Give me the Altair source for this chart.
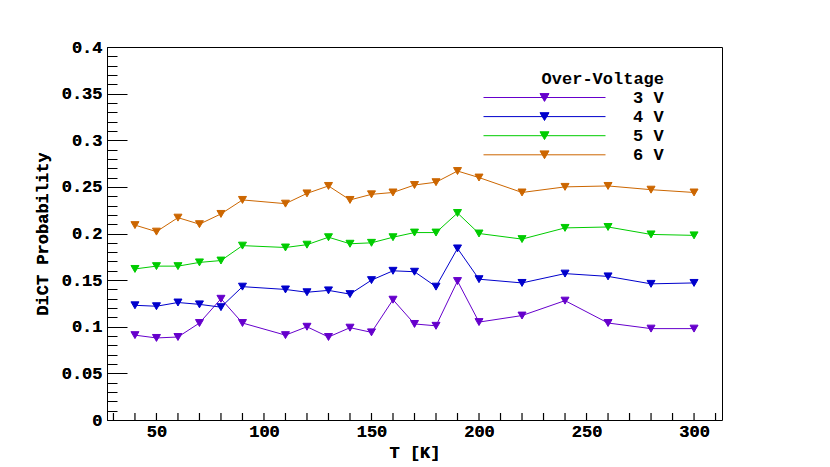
import altair as alt
import pandas as pd

# ---- data ----
temps = [40, 50, 60, 70, 80, 90, 110, 120, 130, 140, 150, 160, 170, 180, 190, 200, 220, 240, 260, 280, 300]
p3v = [0.091, 0.088, 0.089, 0.104, 0.130, 0.104, 0.091, 0.100, 0.089, 0.099, 0.094, 0.129, 0.103, 0.101, 0.149, 0.105, 0.112, 0.128, 0.104, 0.098, 0.098]
p4v = [0.123, 0.122, 0.126, 0.124, 0.121, 0.143, 0.140, 0.137, 0.139, 0.135, 0.150, 0.160, 0.159, 0.143, 0.184, 0.151, 0.147, 0.157, 0.154, 0.146, 0.147]
p5v = [0.162, 0.165, 0.165, 0.169, 0.171, 0.187, 0.185, 0.188, 0.196, 0.189, 0.190, 0.196, 0.201, 0.201, 0.222, 0.200, 0.194, 0.206, 0.207, 0.199, 0.198]
p6v = [0.209, 0.202, 0.217, 0.210, 0.221, 0.236, 0.232, 0.243, 0.251, 0.236, 0.242, 0.244, 0.252, 0.255, 0.267, 0.260, 0.244, 0.250, 0.251, 0.247, 0.244]

series_labels = ["3 V", "4 V", "5 V", "6 V"]
series_colors = ["#6600cc", "#0000cc", "#00cc00", "#cc6600"]

x_major = [50, 100, 150, 200, 250, 300]
x_minor = [30, 40, 60, 70, 80, 90, 110, 120, 130, 140, 160, 170, 180,
           190, 210, 220, 230, 240, 260, 270, 280, 290, 310]
y_major = [0, 0.05, 0.1, 0.15, 0.2, 0.25, 0.3, 0.35, 0.4]
y_minor = [0, 0.01, 0.02, 0.03, 0.04, 0.05, 0.06, 0.07, 0.08, 0.09, 0.1, 0.11, 0.12, 0.13,
           0.14, 0.15, 0.16, 0.17, 0.18, 0.19, 0.2, 0.21, 0.22, 0.23, 0.24, 0.25, 0.26,
           0.27, 0.28, 0.29, 0.3, 0.31, 0.32, 0.33, 0.34, 0.35, 0.36, 0.37, 0.38, 0.39, 0.4]

rows = []
for lab, vals in zip(series_labels, [p3v, p4v, p5v, p6v]):
    for t, v in zip(temps, vals):
        rows.append({"T": t, "P": v, "V": lab})
df = pd.DataFrame(rows)
xtick_df = pd.DataFrame(
    {"T": x_major + x_minor, "len": [9] * len(x_major) + [4] * len(x_minor)}
)

FONT = "Liberation Mono"
FS = 17
PLOT_W = 615
PLOT_H = 373

xscale = alt.Scale(domain=[27, 313], nice=False, zero=False)
yscale = alt.Scale(domain=[0, 0.4], nice=False, zero=False)
cscale = alt.Scale(domain=series_labels, range=series_colors)

main_x_axis = alt.Axis(
    orient="bottom", values=x_major, ticks=False, domain=False, grid=False,
    labelFont=FONT, labelFontSize=FS, labelFontWeight="bold", labelColor="black",
    labelPadding=3, labelFlush=False, format="d",
    title="T [K]", titleFont=FONT, titleFontSize=FS, titleFontWeight="bold",
    titleColor="black", titlePadding=5,
)
main_y_axis = alt.Axis(
    orient="left", values=y_major, ticks=False, domain=False, grid=False,
    labelFont=FONT, labelFontSize=FS, labelFontWeight="bold", labelColor="black",
    labelPadding=5, format="~g",
    title="DiCT Probability", titleFont=FONT, titleFontSize=FS, titleFontWeight="bold",
    titleColor="black", titlePadding=10,
)


def y_tick_axis(values, length):
    # axis pulled inside the frame by its tick length: ticks end on the frame edge
    return alt.Axis(
        orient="left", values=values, labels=False, domain=False, grid=False,
        title=None, ticks=True, tickSize=length, offset=-length,
        tickColor="black", tickWidth=1,
    )


legend_symbol = "M-1,0H1M0,0.064L0.074,-0.064L-0.074,-0.064Z"
legend_def = alt.Legend(
    title="Over-Voltage", orient="none", legendX=376, legendY=24,
    symbolType=legend_symbol, symbolSize=14884, symbolStrokeWidth=1,
    symbolOpacity=1, clipHeight=17, rowPadding=1.1, labelOffset=27,
    labelFont=FONT, labelFontSize=FS, labelFontWeight="bold", labelColor="black",
    titleFont=FONT, titleFontSize=FS, titleFontWeight="bold", titleColor="black",
    titleAnchor="end", titlePadding=1, padding=0,
)

lines = alt.Chart(df).mark_line(strokeWidth=1).encode(
    x=alt.X("T:Q", scale=xscale, axis=main_x_axis),
    y=alt.Y("P:Q", scale=yscale, axis=main_y_axis),
    stroke=alt.Stroke("V:N", scale=cscale, legend=legend_def),
)

points = alt.Chart(df).mark_point(
    shape="triangle-down", filled=True, size=64, opacity=1, strokeWidth=1
).encode(
    x=alt.X("T:Q", scale=xscale, axis=main_x_axis),
    y=alt.Y("P:Q", scale=yscale, axis=main_y_axis),
    fill=alt.Fill("V:N", scale=cscale, legend=legend_def),
    stroke=alt.Stroke("V:N", scale=cscale, legend=legend_def),
)

major_ticks = alt.Chart(df).mark_point(opacity=0).encode(
    x=alt.X("T:Q", scale=xscale, axis=None),
    y=alt.Y("P:Q", scale=yscale, axis=y_tick_axis(y_major, 20)),
)
minor_ticks = alt.Chart(df).mark_point(opacity=0).encode(
    x=alt.X("T:Q", scale=xscale, axis=None),
    y=alt.Y("P:Q", scale=yscale, axis=y_tick_axis(y_minor, 10)),
)

# x ticks drawn on top of everything, as a plain rule layer
x_ticks = alt.Chart(xtick_df).mark_rule(color="black", strokeWidth=1.2).encode(
    x=alt.X("T:Q", scale=xscale, axis=None),
    y=alt.value(PLOT_H),
    y2=alt.value(PLOT_H - 7),
)

chart = alt.layer(
    lines, points, major_ticks, minor_ticks, x_ticks
).resolve_axis(
    x="independent", y="independent"
).properties(
    width=PLOT_W, height=PLOT_H,
    padding={"left": 99, "top": 39, "right": 90, "bottom": 46},
    autosize=alt.AutoSizeParams(type="none"),
    background="white",
).configure_view(stroke="black", strokeWidth=1)

chart.save("out.html", embed_options={"renderer": "svg", "actions": False})
